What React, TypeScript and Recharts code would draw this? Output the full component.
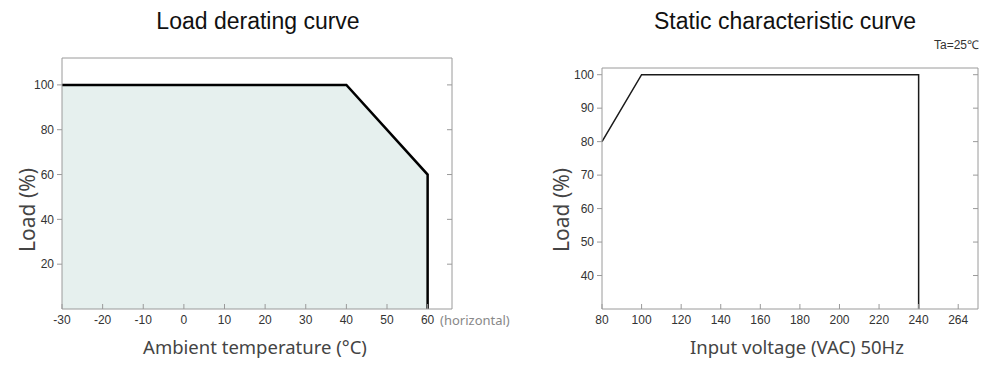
import React from 'react';
import { ComposedChart, Area, Line, XAxis, YAxis } from 'recharts';

// Load derating curve
const deratingTemp = [-30, 40, 60, 60];
const deratingLoad = [100, 100, 60, 0];
const tempTicks = [-30, -20, -10, 0, 10, 20, 30, 40, 50, 60];
const deratingLoadTicks = [20, 40, 60, 80, 100];

// Static characteristic curve
const inputVoltage = [80, 100, 240, 240];
const staticLoad = [80, 100, 100, 30];
const voltageTicks = [80, 100, 120, 140, 160, 180, 200, 220, 240, 260];
const voltageTickLabels = ['80', '100', '120', '140', '160', '180', '200', '220', '240', '264'];
const staticLoadTicks = [40, 50, 60, 70, 80, 90, 100];

const AXIS = '#9a9a9a';
const tickFont = { fontSize: 12, fill: '#333', fontFamily: '"Liberation Sans", Arial, sans-serif' };
const titleStyle: React.CSSProperties = {
  position: 'absolute', fontFamily: '"Liberation Sans", Arial, sans-serif', fontSize: 23,
  color: '#111', whiteSpace: 'nowrap', transform: 'translateX(-50%)',
};
const axisTitle: React.CSSProperties = {
  position: 'absolute', fontFamily: '"Noto Sans", sans-serif', fontSize: 18.5,
  color: '#444', whiteSpace: 'nowrap', transform: 'translateX(-50%)',
};
const yTitle: React.CSSProperties = {
  position: 'absolute', fontFamily: '"Noto Sans", sans-serif', fontSize: 21,
  color: '#444', whiteSpace: 'nowrap', transform: 'translate(-50%, -50%) rotate(-90deg)',
};

// right-hand frame ticks point into the plot
const InwardTick = (p: any) => (
  <line x1={p.x} y1={p.y} x2={p.x - 5} y2={p.y} stroke={AXIS} strokeWidth={1} />
);

export default function App() {
  const derating = deratingTemp.map((t, i) => ({ t, load: deratingLoad[i] }));
  const stat = inputVoltage.map((v, i) => ({ v, load: staticLoad[i] }));

  return (
    <div style={{ position: 'absolute', left: 0, top: 0, width: 1000, height: 370, background: '#fff' }}>
      <div style={{ ...titleStyle, left: 258, top: 8 }}>Load derating curve</div>
      <div style={{ ...titleStyle, left: 785, top: 8 }}>Static characteristic curve</div>
      <div style={{ position: 'absolute', left: 934, top: 36, fontSize: 12, color: '#333', fontFamily: '"Liberation Sans", Arial, sans-serif' }}>
        Ta=25℃
      </div>

      <div style={{ position: 'absolute', left: 0, top: 0 }}>
        <ComposedChart width={500} height={370} data={derating} margin={{ top: 57, right: 42, bottom: 36, left: 22 }}>
          <XAxis type="number" dataKey="t" domain={[-30, 66]} ticks={tempTicks} interval={0}
            stroke={AXIS} tickSize={-5} tickMargin={11} tick={tickFont} height={25} />
          <XAxis xAxisId="top" type="number" dataKey="t" domain={[-30, 66]} orientation="top"
            height={1} tick={false} tickLine={false} stroke={AXIS} />
          <YAxis type="number" domain={[0, 112]} ticks={deratingLoadTicks} interval={0}
            stroke={AXIS} tickSize={5} tickMargin={3} tick={tickFont} width={40} />
          <YAxis yAxisId="r" orientation="right" type="number" domain={[0, 112]} ticks={deratingLoadTicks}
            interval={0} stroke={AXIS} tickLine={false} tickSize={0} tickMargin={0} tick={InwardTick} width={6} />
          <Area type="linear" dataKey="load" stroke="#000" strokeWidth={2.5} fill="#e6f0ee"
            fillOpacity={1} isAnimationActive={false} dot={false} activeDot={false} />
          {/* invisible twin so the right frame axis gets a scale */}
          <Line yAxisId="r" xAxisId="top" type="linear" dataKey="load" stroke="none" dot={false}
            activeDot={false} isAnimationActive={false} />
        </ComposedChart>
      </div>
      <div style={{ position: 'absolute', left: 440, top: 311, fontSize: 13, color: '#888', fontFamily: '"Noto Sans", sans-serif' }}>
        (horizontal)
      </div>
      <div style={{ ...axisTitle, left: 255, top: 334 }}>Ambient temperature (°C)</div>
      <div style={{ ...yTitle, left: 27, top: 210 }}>Load (%)</div>

      <div style={{ position: 'absolute', left: 520, top: 0 }}>
        <ComposedChart width={480} height={370} data={stat} margin={{ top: 67, right: 16, bottom: 36, left: 42 }}>
          <XAxis type="number" dataKey="v" domain={[80, 270]} ticks={voltageTicks} interval={0}
            tickFormatter={(v: number) => voltageTickLabels[voltageTicks.indexOf(v)]}
            stroke={AXIS} tickSize={-5} tickMargin={11} tick={tickFont} height={25} />
          <XAxis xAxisId="top" type="number" dataKey="v" domain={[80, 270]} orientation="top"
            height={1} tick={false} tickLine={false} stroke={AXIS} />
          <YAxis type="number" domain={[30, 102]} ticks={staticLoadTicks} interval={0}
            stroke={AXIS} tickSize={5} tickMargin={3} tick={tickFont} width={40} />
          <YAxis yAxisId="r" orientation="right" type="number" domain={[30, 102]} ticks={staticLoadTicks}
            interval={0} stroke={AXIS} tickLine={false} tickSize={0} tickMargin={0} tick={InwardTick} width={6} />
          <Line type="linear" dataKey="load" stroke="#1a1a1a" strokeWidth={1.5} dot={false}
            activeDot={false} isAnimationActive={false} />
          <Line yAxisId="r" xAxisId="top" type="linear" dataKey="load" stroke="none" dot={false}
            activeDot={false} isAnimationActive={false} />
        </ComposedChart>
      </div>
      <div style={{ ...axisTitle, left: 797, top: 334 }}>Input voltage (VAC) 50Hz</div>
      <div style={{ ...yTitle, left: 561, top: 210 }}>Load (%)</div>
    </div>
  );
}
